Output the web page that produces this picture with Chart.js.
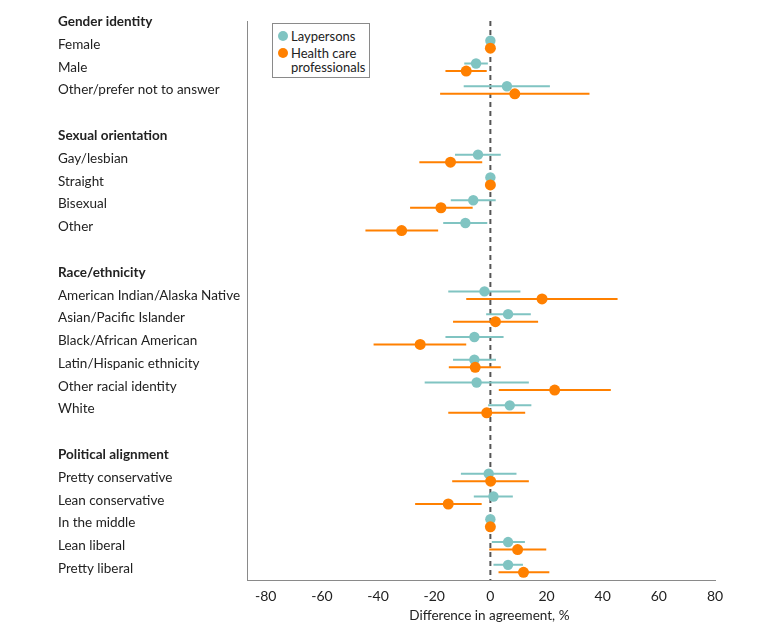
<!DOCTYPE html>
<html>
<head>
<meta charset="utf-8">
<script src="https://cdn.jsdelivr.net/npm/chart.js@4"></script>
<style>
  html, body { margin: 0; padding: 0; background: #fff; }
  #wrap { position: relative; width: 780px; height: 634px; }
  #legend { position: absolute; left: 272px; top: 23px; width: 96px; height: 53px;
    border: 1px solid #8a8a8a; background: #fff; font-family: Lato, sans-serif; font-size: 13px;
    color: #222; box-sizing: content-box; }
  .li { position: absolute; left: 5px; line-height: 14px; }
  .dot { position: absolute; width: 10px; height: 10px; border-radius: 50%; }
  .txt { position: absolute; left: 13px; white-space: nowrap; }
</style>
</head>
<body>
<div id="wrap">
  <canvas id="c" width="780" height="634"></canvas>
  <div id="legend">
    <div class="li" style="top:5px"><span class="dot" style="background:#80c4c2;top:2px"></span><span class="txt">Laypersons</span></div>
    <div class="li" style="top:22px"><span class="dot" style="background:#ff8000;top:2px"></span><span class="txt">Health care<br>professionals</span></div>
  </div>
</div>
<script>
const rowLabels = ['Gender identity','Female','Male','Other/prefer not to answer','',
  'Sexual orientation','Gay/lesbian','Straight','Bisexual','Other','',
  'Race/ethnicity','American Indian/Alaska Native','Asian/Pacific Islander','Black/African American',
  'Latin/Hispanic ethnicity','Other racial identity','White','',
  'Political alignment','Pretty conservative','Lean conservative','In the middle','Lean liberal','Pretty liberal'];
const headerRows = ['Gender identity','Sexual orientation','Race/ethnicity','Political alignment'];
const seriesNames = ['Laypersons','Health care professionals'];
const xTitle = 'Difference in agreement, %';

const layEst = [null,0,-5.1,5.9,null, null,-4.4,0,-6.1,-8.9,null, null,-2.1,6.3,-5.7,-5.7,-4.9,6.9,null, null,-0.6,1.1,0,6.3,6.3];
const layLo  = [null,null,-9.3,-9.5,null, null,-12.6,null,-14.1,-16.8,null, null,-15.0,-1.5,-16.0,-13.3,-23.4,-0.8,null, null,-10.5,-5.9,null,0.5,1.1];
const layHi  = [null,null,-0.9,21.2,null, null,3.7,null,1.9,-1.1,null, null,10.7,14.4,4.7,2.0,13.7,14.6,null, null,9.3,8.0,null,12.3,11.6];
const hcpEst = [null,0,-8.6,8.7,null, null,-14.2,0,-17.6,-31.6,null, null,18.4,1.8,-25.0,-5.4,22.9,-1.3,null, null,0.1,-15.0,0,9.7,11.8];
const hcpLo  = [null,null,-16.0,-17.9,null, null,-25.3,null,-28.6,-44.5,null, null,-8.6,-13.3,-41.6,-14.8,3.0,-15.0,null, null,-13.6,-26.8,null,-0.4,2.9];
const hcpHi  = [null,null,-1.3,35.3,null, null,-2.9,null,-6.3,-18.6,null, null,45.3,17.0,-8.6,3.7,42.9,12.4,null, null,13.7,-3.1,null,19.9,21.0];
const xTicks = [-80,-60,-40,-20,0,20,40,60,80];

const TEAL = '#80c4c2', ORANGE = '#ff8000';
const OFF = 0.165;
const FONT = 'Lato, sans-serif';

function points(est, off) {
  const out = [];
  est.forEach((v, i) => { if (v !== null) out.push({x: v, y: i + off}); });
  return out;
}
function bars(lo, hi, off) {
  const out = [];
  lo.forEach((v, i) => {
    if (v !== null && hi[i] !== null) {
      out.push({x: v, y: i + off}, {x: hi[i], y: i + off}, {x: null, y: null});
    }
  });
  return out;
}

const yMin = -0.03, yMax = 24.5;

const xTitlePlugin = {
  id: 'xTitlePlugin',
  afterDraw(chart) {
    const ctx = chart.ctx, xs = chart.scales.x;
    ctx.save();
    ctx.font = '13.5px ' + FONT;
    ctx.fillStyle = '#222';
    ctx.textAlign = 'center';
    ctx.textBaseline = 'middle';
    ctx.fillText(xTitle, xs.getPixelForValue(0) - 1, 616);
    ctx.restore();
  }
};

new Chart(document.getElementById('c'), {
  type: 'scatter',
  data: {
    datasets: [
      { label: seriesNames[1], data: points(hcpEst, OFF), backgroundColor: ORANGE, borderColor: ORANGE,
        pointRadius: 5.5, pointHoverRadius: 5.5, borderWidth: 0, order: 0 },
      { label: seriesNames[0], data: points(layEst, -OFF), backgroundColor: TEAL, borderColor: TEAL,
        pointRadius: 5.2, pointHoverRadius: 5.2, borderWidth: 0, order: 1 },
      { type: 'line', label: 'hcpCI', data: bars(hcpLo, hcpHi, OFF), borderColor: ORANGE, borderWidth: 2,
        pointRadius: 0, showLine: true, spanGaps: false, fill: false, order: 2 },
      { type: 'line', label: 'layCI', data: bars(layLo, layHi, -OFF), borderColor: TEAL, borderWidth: 2,
        pointRadius: 0, showLine: true, spanGaps: false, fill: false, order: 3 },
      { type: 'line', label: 'zero', data: [{x: 0, y: yMin}, {x: 0, y: yMax}], borderColor: '#555',
        borderWidth: 2, borderDash: [5, 4], pointRadius: 0, showLine: true, fill: false, order: 4 }
    ]
  },
  options: {
    responsive: false,
    animation: false,
    layout: { padding: { left: 58, right: 65, top: 21, bottom: 0 } },
    plugins: { legend: { display: false }, tooltip: { enabled: false } },
    scales: {
      x: {
        type: 'linear', min: -86.5, max: 80,
        afterBuildTicks: (s) => { s.ticks = xTicks.map(v => ({value: v})); },
        afterFit: (s) => { s.height = 54; },
        grid: { display: false, drawTicks: false },
        border: { display: true, color: '#8a8a8a', width: 1 },
        ticks: { color: '#222', font: { family: FONT, size: 14 }, padding: 8, autoSkip: false, maxRotation: 0 },
        title: { display: false, text: xTitle }
      },
      y: {
        type: 'linear', reverse: true, min: yMin, max: yMax,
        afterBuildTicks: (s) => { s.ticks = rowLabels.map((_, i) => ({value: i})); },
        afterFit: (s) => { s.width = 189.5; },
        grid: { display: false, drawTicks: false },
        border: { display: true, color: '#8a8a8a', width: 1 },
        ticks: {
          autoSkip: false, crossAlign: 'far', color: '#222', padding: 0,
          callback: (v) => rowLabels[v],
          font: (ctx) => ({ family: FONT, size: 13.5,
            weight: headerRows.includes(rowLabels[ctx.index]) ? 'bold' : 'normal' })
        }
      }
    }
  },
  plugins: [xTitlePlugin]
});
</script>
</body>
</html>
